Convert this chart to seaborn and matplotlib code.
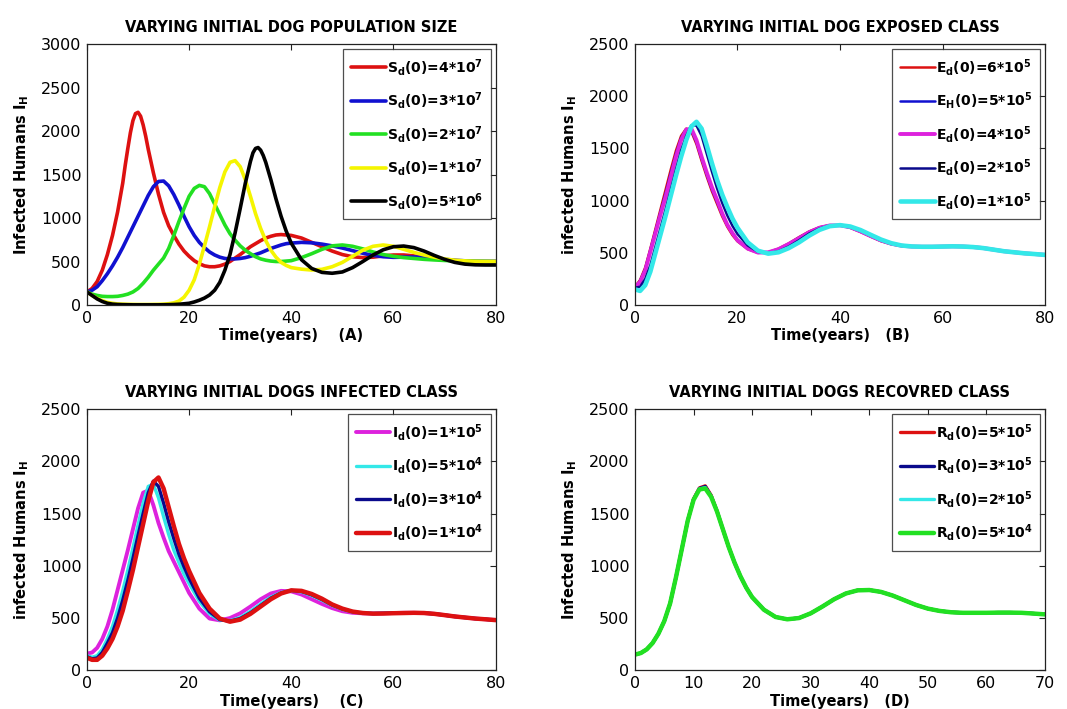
import matplotlib
matplotlib.use("Agg")
import matplotlib.pyplot as plt
import seaborn as sns

# ---------------- time grids (years) ----------------
t_a = list(range(0, 41)) + list(range(42, 81, 2))
t_a_red = (list(range(0, 7)) + [7, 7.5, 8, 8.5, 9, 9.5, 10, 10.5, 11, 11.5, 12]
           + list(range(13, 41)) + list(range(42, 81, 2)))
t_a_black = (list(range(0, 32)) + [32, 32.5, 33, 33.5, 34, 34.5, 35]
             + list(range(36, 41)) + list(range(42, 81, 2)))
t_bc = list(range(0, 21)) + list(range(22, 81, 2))
t_d = list(range(0, 21)) + list(range(22, 71, 2))

# ---------------- (A) initial dog population size ----------------
sd_4e7 = [150, 190, 270, 400, 580, 800, 1070,
          1400, 1610, 1800, 1980, 2120, 2200, 2215, 2170, 2070, 1940, 1790,
          1520, 1275, 1065, 910, 800, 700, 620, 560, 510, 475, 450, 440, 440, 450, 470, 500,
          540, 580, 625, 670, 705, 740, 770, 790, 805, 810, 805, 800,
          770, 720, 670, 620, 580, 555, 545, 550, 565, 575, 575, 565, 550, 535, 520, 510,
          505, 500, 500, 500]
sd_3e7 = [150, 170, 210, 280, 360, 450, 550, 660, 780, 900, 1020, 1140, 1260, 1360, 1420,
          1425, 1370, 1270, 1150, 1020, 900, 800, 720, 660, 610, 575, 550, 535, 530, 530, 535,
          545, 560, 580, 600, 625, 650, 670, 690, 705, 712,
          720, 715, 700, 680, 655, 625, 595, 570, 555, 548, 550, 552, 548, 538, 525, 515,
          508, 502, 500, 500]
sd_2e7 = [150, 125, 110, 100, 97, 97, 100, 110, 125, 150, 190, 250, 320, 400, 470, 540, 650,
          800, 960, 1110, 1250, 1340, 1375, 1360, 1280, 1160, 1040, 920, 820, 745, 680, 630,
          590, 555, 530, 515, 505, 500, 500, 505, 510,
          545, 590, 640, 680, 690, 675, 645, 610, 580, 560, 545, 535, 525, 518, 512, 508,
          505, 503, 502, 500]
sd_1e7 = [150, 110, 75, 50, 30, 20, 12, 10, 8, 7, 6, 6, 6, 7, 8, 10, 15, 25, 45, 90, 170, 290,
          470, 680, 900, 1130, 1350, 1530, 1640, 1660, 1590, 1440, 1250, 1050, 880, 740, 630,
          550, 490, 455, 430,
          412, 402, 410, 440, 490, 560, 630, 675, 690, 675, 640, 605, 575, 550, 530, 515,
          507, 502, 500, 500]
sd_5e6 = [150, 110, 70, 40, 20, 10, 6, 4, 3, 2, 2, 2, 2, 2, 2, 3, 4, 6, 9, 14, 20, 35, 55, 80,
          115, 170, 260, 400, 580, 830, 1110, 1400,
          1650, 1750, 1800, 1810, 1780, 1720, 1640,
          1440, 1220, 1020, 850, 710,
          520, 420, 375, 365, 380, 430, 500, 575, 635, 670, 678, 660, 620, 570, 525, 490,
          470, 462, 460, 460]
labels_a = ["S$_\\mathbf{d}$(0)=4*10$^\\mathbf{7}$", "S$_\\mathbf{d}$(0)=3*10$^\\mathbf{7}$",
            "S$_\\mathbf{d}$(0)=2*10$^\\mathbf{7}$", "S$_\\mathbf{d}$(0)=1*10$^\\mathbf{7}$",
            "S$_\\mathbf{d}$(0)=5*10$^\\mathbf{6}$"]

# ---------------- (B) initial dog exposed class ----------------
ed_6e5 = [175, 240, 360, 540, 730, 920, 1110, 1300, 1480, 1620, 1690, 1660, 1540, 1380, 1230,
          1090, 970, 850, 750, 670, 610,
          535, 500, 505, 540, 590, 650, 705, 745, 765, 762, 740, 700, 655, 612, 582, 565,
          560, 558, 558, 560, 562, 560, 555, 545, 530, 515, 505, 495, 488, 480]
eh_5e5 = [172, 230, 345, 525, 710, 895, 1075, 1265, 1450, 1600, 1685, 1670, 1560, 1400, 1250,
          1110, 990, 870, 770, 690, 625,
          545, 505, 503, 535, 585, 645, 700, 742, 763, 763, 742, 703, 658, 615, 585, 567,
          560, 558, 558, 560, 562, 560, 555, 545, 530, 515, 505, 495, 488, 480]
ed_4e5 = [170, 220, 330, 510, 690, 870, 1040, 1230, 1420, 1580, 1680, 1690, 1580, 1420, 1270,
          1130, 1010, 880, 770, 690, 620,
          540, 502, 505, 535, 585, 640, 698, 740, 762, 763, 745, 705, 660, 618, 587, 568,
          560, 558, 558, 560, 562, 560, 555, 545, 530, 515, 505, 495, 488, 480]
ed_2e5 = [165, 175, 250, 380, 560, 740, 920, 1110, 1300, 1480, 1620, 1720, 1720, 1620, 1450,
          1280, 1120, 980, 860, 760, 680,
          570, 510, 495, 515, 560, 620, 685, 732, 760, 765, 750, 712, 668, 622, 590, 570,
          561, 558, 558, 560, 562, 560, 555, 545, 530, 515, 505, 495, 488, 480]
ed_1e5 = [150, 135, 190, 320, 500, 680, 860, 1050, 1240, 1420, 1580, 1710, 1755, 1690, 1530,
          1360, 1200, 1060, 940, 830, 740,
          600, 520, 492, 505, 545, 600, 665, 720, 755, 765, 752, 718, 672, 627, 592, 570,
          561, 558, 558, 560, 562, 560, 555, 545, 530, 515, 505, 495, 488, 480]
labels_b = ["E$_\\mathbf{d}$(0)=6*10$^\\mathbf{5}$", "E$_\\mathbf{H}$(0)=5*10$^\\mathbf{5}$",
            "E$_\\mathbf{d}$(0)=4*10$^\\mathbf{5}$", "E$_\\mathbf{d}$(0)=2*10$^\\mathbf{5}$",
            "E$_\\mathbf{d}$(0)=1*10$^\\mathbf{5}$"]

# ---------------- (C) initial dogs infected class ----------------
id_1e5 = [160, 170, 215, 300, 420, 580, 770, 960, 1150, 1350, 1550, 1700, 1720, 1580, 1410,
          1270, 1140, 1040, 940, 840, 740,
          590, 495, 478, 500, 545, 610, 680, 735, 760, 755, 725, 680, 635, 595, 565, 550,
          545, 543, 545, 548, 550, 550, 548, 540, 528, 515, 505, 495, 488, 480]
id_5e4 = [140, 125, 140, 200, 300, 420, 580, 760, 960, 1170, 1390, 1600, 1760, 1780, 1650,
          1470, 1300, 1150, 1030, 920, 830,
          660, 540, 480, 475, 505, 565, 635, 700, 745, 762, 750, 715, 670, 620, 583, 558,
          546, 543, 545, 548, 550, 550, 548, 540, 528, 515, 505, 495, 488, 480]
id_3e4 = [130, 110, 118, 170, 260, 360, 500, 670, 860, 1070, 1290, 1500, 1700, 1810, 1760,
          1600, 1420, 1260, 1110, 990, 880,
          690, 560, 485, 470, 495, 550, 620, 690, 740, 764, 755, 722, 678, 625, 587, 560,
          547, 543, 545, 548, 550, 550, 548, 540, 528, 515, 505, 495, 488, 480]
id_1e4 = [120, 100, 100, 140, 210, 300, 420, 570, 760, 960, 1180, 1400, 1620, 1800, 1845,
          1740, 1560, 1380, 1210, 1070, 950,
          740, 590, 495, 465, 485, 540, 610, 680, 735, 765, 760, 730, 685, 630, 590, 562,
          548, 542, 543, 546, 548, 550, 548, 540, 528, 515, 505, 495, 488, 480]
labels_c = ["I$_\\mathbf{d}$(0)=1*10$^\\mathbf{5}$", "I$_\\mathbf{d}$(0)=5*10$^\\mathbf{4}$",
            "I$_\\mathbf{d}$(0)=3*10$^\\mathbf{4}$", "I$_\\mathbf{d}$(0)=1*10$^\\mathbf{4}$"]

# ---------------- (D) initial dogs recovered class ----------------
rd_5e5 = [150, 165, 200, 260, 350, 470, 640, 890, 1160, 1430, 1640, 1745, 1765, 1675, 1525,
          1350, 1180, 1030, 900, 790, 700,
          580, 510, 488, 500, 545, 610, 680, 735, 765, 768, 750, 715, 670, 625, 590, 568,
          555, 550, 550, 550, 552, 552, 550, 543, 535]
rd_3e5 = [150, 165, 200, 260, 350, 470, 640, 890, 1160, 1430, 1635, 1740, 1758, 1668, 1522,
          1350, 1180, 1030, 900, 790, 700,
          580, 510, 488, 500, 545, 610, 680, 735, 765, 768, 750, 715, 670, 625, 590, 568,
          555, 550, 550, 550, 552, 552, 550, 543, 535]
rd_2e5 = [150, 165, 200, 260, 350, 470, 640, 890, 1160, 1430, 1632, 1735, 1748, 1664, 1521,
          1350, 1180, 1030, 900, 790, 700,
          580, 510, 488, 500, 545, 610, 680, 735, 765, 768, 750, 715, 670, 625, 590, 568,
          555, 550, 550, 550, 552, 552, 550, 543, 535]
rd_5e4 = [150, 165, 200, 260, 350, 470, 640, 890, 1160, 1430, 1630, 1730, 1740, 1660, 1520,
          1350, 1180, 1030, 900, 790, 700,
          580, 510, 488, 500, 545, 610, 680, 735, 765, 768, 750, 715, 670, 625, 590, 568,
          555, 550, 550, 550, 552, 552, 550, 543, 535]
labels_d = ["R$_\\mathbf{d}$(0)=5*10$^\\mathbf{5}$", "R$_\\mathbf{d}$(0)=3*10$^\\mathbf{5}$",
            "R$_\\mathbf{d}$(0)=2*10$^\\mathbf{5}$", "R$_\\mathbf{d}$(0)=5*10$^\\mathbf{4}$"]

# ---------------- style ----------------
sns.set_style("white")
plt.rcParams["font.family"] = ["DejaVu Sans"]
plt.rcParams["mathtext.fontset"] = "dejavusans"
plt.rcParams["lines.solid_joinstyle"] = "round"
plt.rcParams["lines.solid_capstyle"] = "round"
plt.rcParams["text.color"] = "black"
plt.rcParams["axes.labelcolor"] = "black"

RED = "#dd1111"
BLUE = "#1010d0"
GREEN = "#22e022"
YELLOW = "#f5f500"
BLACK = "#000000"
MAGENTA = "#dd22dd"
CYAN = "#33e8e8"
NAVY = "#0a0a8c"

fig = plt.figure(figsize=(10.67, 7.09), dpi=100)
ax_a = fig.add_axes([0.0815, 0.5698, 0.3830, 0.3681])
ax_b = fig.add_axes([0.5951, 0.5698, 0.3843, 0.3681])
ax_c = fig.add_axes([0.0815, 0.0546, 0.3830, 0.3685])
ax_d = fig.add_axes([0.5951, 0.0546, 0.3843, 0.3685])


def draw(ax, times, series, colors, widths, labels):
    for t, y, c, w, lab in zip(times, series, colors, widths, labels):
        sns.lineplot(x=t, y=y, ax=ax, color=c, linewidth=w, label=lab,
                     estimator=None, sort=False)


def finish(ax, title, ylab, xlab, xmax, xstep, ymax):
    ax.set_xlim(0, xmax)
    ax.set_ylim(0, ymax)
    ax.set_xticks(range(0, xmax + 1, xstep))
    ax.set_yticks(range(0, ymax + 1, 500))
    ax.tick_params(direction="in", length=4, width=0.8, top=True, right=True,
                   labelsize=11.5, pad=4, colors="#222222", labelcolor="black")
    for s in ax.spines.values():
        s.set_color("#222222")
        s.set_linewidth(0.9)
    ax.set_title(title, fontsize=10.5, fontweight="bold", pad=9, color="black")
    ax.set_ylabel(ylab, fontsize=10.5, fontweight="bold", labelpad=7)
    ax.set_xlabel(xlab, fontsize=10.5, fontweight="bold", labelpad=2)
    leg = ax.legend(loc="upper right", fontsize=10, frameon=True, fancybox=False,
                    borderaxespad=0.35, handlelength=2.5, handletextpad=0.1,
                    labelspacing=0.9, borderpad=0.55)
    leg.get_frame().set_edgecolor("#222222")
    leg.get_frame().set_linewidth(0.9)
    for txt in leg.get_texts():
        txt.set_fontweight("bold")


draw(ax_a, [t_a_red, t_a, t_a, t_a, t_a_black], [sd_4e7, sd_3e7, sd_2e7, sd_1e7, sd_5e6],
     [RED, BLUE, GREEN, YELLOW, BLACK], [2.6] * 5, labels_a)
finish(ax_a, "VARYING INITIAL DOG POPULATION SIZE", "Infected Humans I$_\\mathbf{H}$",
       "Time(years)    (A)", 80, 20, 3000)

draw(ax_b, [t_bc] * 5, [ed_6e5, eh_5e5, ed_4e5, ed_2e5, ed_1e5],
     [RED, BLUE, MAGENTA, NAVY, CYAN], [1.8, 1.8, 2.8, 1.8, 3.3], labels_b)
finish(ax_b, "VARYING INITIAL DOG EXPOSED CLASS", "infected Humans I$_\\mathbf{H}$",
       "Time(years)   (B)", 80, 20, 2500)

draw(ax_c, [t_bc] * 4, [id_1e5, id_5e4, id_3e4, id_1e4],
     [MAGENTA, CYAN, NAVY, RED], [2.8, 2.4, 2.4, 3.2], labels_c)
finish(ax_c, "VARYING INITIAL DOGS INFECTED CLASS", "infected Humans I$_\\mathbf{H}$",
       "Time(years)    (C)", 80, 20, 2500)

draw(ax_d, [t_d] * 4, [rd_5e5, rd_3e5, rd_2e5, rd_5e4],
     [RED, NAVY, CYAN, GREEN], [2.4, 2.4, 2.4, 3.2], labels_d)
finish(ax_d, "VARYING INITIAL DOGS RECOVRED CLASS", "Infected Humans I$_\\mathbf{H}$",
       "Time(years)   (D)", 70, 10, 2500)

fig.savefig("out.png", dpi=100)
